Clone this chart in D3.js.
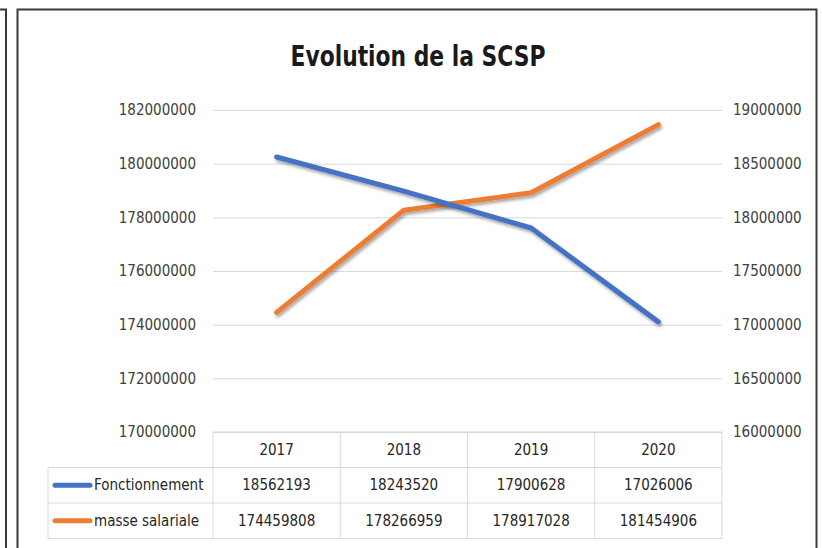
<!DOCTYPE html>
<html>
<head>
<meta charset="utf-8">
<script src="https://cdn.jsdelivr.net/npm/d3@7"></script>
<style>
  body { margin: 0; background: #fff; }
  text { font-family: "Liberation Sans Narrow", "DejaVu Sans Condensed", sans-serif; }
</style>
</head>
<body>
<div id="chart-area"></div>
<script>
const YEARS = ["2017", "2018", "2019", "2020"]
const FONCTIONNEMENT = [18562193, 18243520, 17900628, 17026006]
const MASSE_SALARIALE = [174459808, 178266959, 178917028, 181454906]
const LEFT_TICKS = [170000000, 172000000, 174000000, 176000000, 178000000, 180000000, 182000000]
const RIGHT_TICKS = [16000000, 16500000, 17000000, 17500000, 18000000, 18500000, 19000000]
const SERIES_NAMES = ["Fonctionnement", "masse salariale"]
const SERIES_COLORS = ["#4472c4", "#ed7d31"]

const SVG_WIDTH = 822
const SVG_HEIGHT = 548
const PLOT = { left: 213, right: 722, top: 110, bottom: 432 }
const ROW_H = 35.5
const LEGEND_LEFT = 48

const svg = d3.select("#chart-area").append("svg")
  .attr("width", SVG_WIDTH)
  .attr("height", SVG_HEIGHT)

// drop shadow like excel lines
const filter = svg.append("defs").append("filter")
  .attr("id", "shadow")
  .attr("x", "-10%").attr("y", "-10%")
  .attr("width", "120%").attr("height", "130%")
filter.append("feDropShadow")
  .attr("dx", 1.5).attr("dy", 2.5)
  .attr("stdDeviation", 1.6)
  .attr("flood-color", "#000")
  .attr("flood-opacity", 0.35)

// frames
svg.append("path")
  .attr("d", "M0,9.5 H6 V560")
  .attr("fill", "none")
  .attr("stroke", "#3a3a3a")
  .attr("stroke-width", 2)
svg.append("rect")
  .attr("x", 17.5).attr("y", 9.5)
  .attr("width", 799).attr("height", 560)
  .attr("fill", "none")
  .attr("stroke", "#3a3a3a")
  .attr("stroke-width", 2)

svg.append("text")
  .attr("x", 418)
  .attr("y", 66)
  .attr("text-anchor", "middle")
  .attr("font-size", "28px")
  .attr("font-weight", "bold")
  .attr("fill", "#1a1a1a")
  .attr("textLength", 255) // squeeze to look like calibri
  .attr("lengthAdjust", "spacingAndGlyphs")
  .text("Evolution de la SCSP")

const x = d3.scaleBand()
  .domain(YEARS)
  .range([PLOT.left, PLOT.right])

const yLeft = d3.scaleLinear()
  .domain([170000000, 182000000])
  .range([PLOT.bottom, PLOT.top])

const yRight = d3.scaleLinear()
  .domain([16000000, 19000000])
  .range([PLOT.bottom, PLOT.top])

// left axis, ticks double as gridlines
const leftAxis = d3.axisLeft(yLeft)
  .tickValues(LEFT_TICKS)
  .tickFormat(d3.format("d"))
  .tickSize(PLOT.left - PLOT.right)
  .tickPadding(17)
const gl = svg.append("g")
  .attr("class", "y axis left")
  .attr("transform", `translate(${PLOT.left}, 0)`)
  .call(leftAxis)
gl.select(".domain").remove()
gl.selectAll("line")
  .attr("stroke", "#d9d9d9")
gl.selectAll("text")
  .attr("font-size", "15px")
  .attr("fill", "#404040")
  .attr("x", -17)

const rightAxis = d3.axisRight(yRight)
  .tickValues(RIGHT_TICKS)
  .tickFormat(d3.format("d"))
  .tickSize(0)
  .tickPadding(11)
const gr = svg.append("g")
  .attr("class", "y axis right")
  .attr("transform", `translate(${PLOT.right}, 0)`)
  .call(rightAxis)
gr.select(".domain").remove()
gr.selectAll("text")
  .attr("font-size", "15px")
  .attr("fill", "#404040")

// data table under the plot
const table = svg.append("g").attr("class", "data table")
const rowsY = [PLOT.bottom, PLOT.bottom + ROW_H, PLOT.bottom + 2 * ROW_H, PLOT.bottom + 3 * ROW_H]
rowsY.forEach((yy, i) => {
  table.append("line")
    .attr("x1", i === 0 ? PLOT.left : LEGEND_LEFT)
    .attr("x2", PLOT.right)
    .attr("y1", yy).attr("y2", yy)
    .attr("stroke", "#d9d9d9")
})
const colEdges = YEARS.map(d => x(d)).concat([PLOT.right])
colEdges.forEach(xx => {
  table.append("line")
    .attr("x1", xx).attr("x2", xx)
    .attr("y1", rowsY[0]).attr("y2", rowsY[3])
    .attr("stroke", "#d9d9d9")
})
table.append("line")
  .attr("x1", LEGEND_LEFT).attr("x2", LEGEND_LEFT)
  .attr("y1", rowsY[1]).attr("y2", rowsY[3])
  .attr("stroke", "#d9d9d9")

table.selectAll(".year")
  .data(YEARS)
  .enter().append("text")
  .attr("class", "year")
  .attr("x", d => x(d) + x.bandwidth() / 2)
  .attr("y", rowsY[0] + ROW_H / 2 + 5)
  .attr("text-anchor", "middle")
  .attr("font-size", "15px")
  .attr("fill", "#262626")
  .text(d => d)

const seriesData = [FONCTIONNEMENT, MASSE_SALARIALE]
seriesData.forEach((vals, i) => {
  const cy = rowsY[i + 1] + ROW_H / 2
  table.append("line")
    .attr("x1", 55).attr("x2", 90)
    .attr("y1", cy).attr("y2", cy)
    .attr("stroke", SERIES_COLORS[i])
    .attr("stroke-width", 5)
    .attr("stroke-linecap", "round")
  table.append("text")
    .attr("x", 94)
    .attr("y", cy + 5)
    .attr("font-size", "15px")
    .attr("fill", "#262626")
    .text(SERIES_NAMES[i])
  table.selectAll(".val" + i)
    .data(vals)
    .enter().append("text")
    .attr("x", (d, j) => x(YEARS[j]) + x.bandwidth() / 2)
    .attr("y", cy + 5)
    .attr("text-anchor", "middle")
    .attr("font-size", "15px")
    .attr("fill", "#262626")
    .text(d => d)
})

// lines
const lineLeft = d3.line()
  .x((d, j) => x(YEARS[j]) + x.bandwidth() / 2)
  .y(d => yLeft(d))
const lineRight = d3.line()
  .x((d, j) => x(YEARS[j]) + x.bandwidth() / 2)
  .y(d => yRight(d))

svg.append("path")
  .datum(MASSE_SALARIALE)
  .attr("d", lineLeft)
  .attr("fill", "none")
  .attr("stroke", SERIES_COLORS[1])
  .attr("stroke-width", 5)
  .attr("stroke-linejoin", "round")
  .attr("stroke-linecap", "round")
  .attr("filter", "url(#shadow)")

svg.append("path")
  .datum(FONCTIONNEMENT)
  .attr("d", lineRight)
  .attr("fill", "none")
  .attr("stroke", SERIES_COLORS[0])
  .attr("stroke-width", 5)
  .attr("stroke-linejoin", "round")
  .attr("stroke-linecap", "round")
  .attr("filter", "url(#shadow)")
</script>
</body>
</html>
